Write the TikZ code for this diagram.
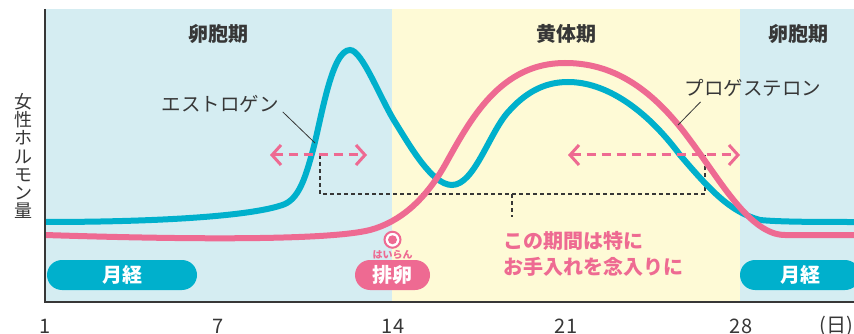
\documentclass[tikz,border=0pt]{standalone}
\usepackage{fontspec}
\setmainfont{Noto Sans CJK JP}
\usetikzlibrary{arrows.meta, positioning}

\definecolor{estro}{RGB}{0,176,204}
\definecolor{proge}{RGB}{238,106,146}
\definecolor{bgblue}{RGB}{213,237,242}
\definecolor{bgyellow}{RGB}{254,250,214}
\definecolor{inkgray}{RGB}{55,55,55}

\begin{document}
\begin{tikzpicture}[x=1pt, y=-1pt,
    phase/.style={text=inkgray, font=\fontsize{20}{24}\selectfont\bfseries},
    hlabel/.style={text=inkgray, inner sep=1pt, font=\fontsize{19.5}{23}\selectfont},
    day/.style={text=inkgray, font=\fontsize{20}{24}\selectfont},
    hormone/.style={line width=6pt},
    pill/.style={rounded corners=15pt, minimum height=30pt, inner sep=0pt, text=white, font=\fontsize{20}{24}\selectfont\bfseries},
    ruby/.style={inner sep=0pt, text=proge, font=\fontsize{10}{12}\selectfont\bfseries},
    carearrow/.style={draw=proge, line width=3pt, dash pattern=on 9pt off 6pt, {Straight Barb[length=9pt,width=20pt]}-{Straight Barb[length=9pt,width=20pt]}},
    bracket/.style={draw=inkgray, line width=1.2pt, dash pattern=on 4pt off 3pt},
    leader/.style={draw=inkgray, line width=0.8pt}]

    \useasboundingbox (0,0) rectangle (854,334);

    % phases
    \fill[bgblue] (45,9) rectangle (392,302);
    \fill[bgyellow] (392,9) rectangle (740,302);
    \fill[bgblue] (740,9) rectangle (854,302);
    \node[phase] (follA) at (218,34) {卵胞期};
    \node[phase] (luteal) at (566,34) {黄体期};
    \node[phase] (follB) at (798,34) {卵胞期};

    % bracket under the care period
    \coordinate (brL) at (320,155);
    \coordinate (brR) at (705,155);
    \coordinate (brMid) at (512,194);
    \draw[bracket] (brL) |- (brMid) -| (brR);
    \draw[bracket] (brMid) -- ++(0,23);

    % estrogen
    \draw[hormone, estro] (45,222) .. controls (160,222) and (255,216) .. (285,204)
        .. controls (300,197) and (306,175) .. (313,150)
        .. controls (322,115) and (332,50) .. (350,50)
        .. controls (362,50) and (380,98) .. (395,122)
        .. controls (410,146) and (432,185) .. (452,185)
        .. controls (475,185) and (490,130) .. (510,110)
        .. controls (530,88) and (550,82) .. (568,82)
        .. controls (605,82) and (645,108) .. (680,155)
        .. controls (710,190) and (730,212) .. (760,220)
        .. controls (780,222) and (820,222) .. (854,222);
    % progesterone
    \draw[hormone, proge] (45,235) .. controls (200,240) and (330,240) .. (370,230)
        .. controls (400,222) and (425,200) .. (445,165)
        .. controls (470,120) and (500,63) .. (565,63)
        .. controls (610,63) and (650,85) .. (690,140)
        .. controls (720,180) and (750,235) .. (785,235)
        -- (854,235);

    % curve labels
    \node[hlabel] (estLabel) at (220,104) {エストロゲン};
    \coordinate (estPt) at (315,143);
    \draw[leader] ([xshift=3pt,yshift=2pt]estLabel.south east) -- (estPt);
    \node[hlabel] (progLabel) at (753,88) {プロゲステロン};
    \coordinate (progPt) at (678,125);
    \draw[leader] ([xshift=17pt,yshift=-4pt]progLabel.south west) -- (progPt);

    % care periods
    \coordinate (careA1) at (270,155);
    \coordinate (careA2) at (367,155);
    \coordinate (careB1) at (568,155);
    \coordinate (careB2) at (740,155);
    \draw[carearrow] (careA1) -- (careA2);
    \draw[carearrow] (careB1) -- (careB2);
    \node[text=proge, align=left, font=\fontsize{20}{26}\selectfont\bfseries] (careNote) at (593,254) {この期間は特に\\お手入れを念入りに};

    % menstruation and ovulation
    \node[pill, fill=estro, minimum width=150pt] (mensA) at (122,275) {月経};
    \node[pill, fill=estro, minimum width=120pt] (mensB) at (800,275) {月経};
    \node[pill, fill=proge, minimum width=75pt] (ovuPill) at (392.5,275) {排卵};
    \node[ruby, above=0.5pt of ovuPill] (ovuRuby) {はいらん};
    \node[circle, draw=proge, fill=white, line width=2pt, minimum size=16pt, inner sep=0pt, above=1pt of ovuRuby] (ovuRing) {};
    \fill[proge] (ovuRing.center) circle (4.5pt);

    % axes
    \draw[inkgray, line width=1.5pt] (45,9) -- (45,302) -- (854,302);
    \node[text=inkgray, align=center, font=\fontsize{18}{18.3}\selectfont] (yLabel) at (23,156) {女\\性\\ホ\\ル\\モ\\ン\\量};
    \foreach \d/\x in {1/45, 7/218, 14/393, 21/566, 28/741}
        \node[day] (day\d) at (\x,326) {\d};
    \node[day] (dayUnit) at (836,326) {(日)};
\end{tikzpicture}
\end{document}
